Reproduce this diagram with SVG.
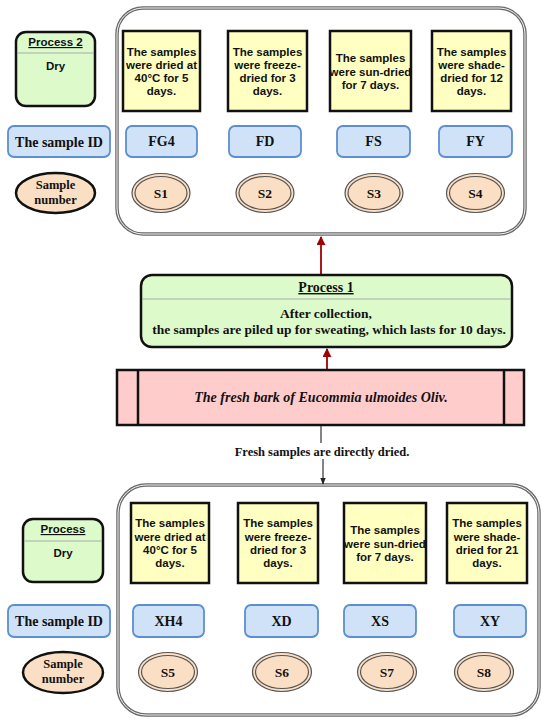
<svg xmlns="http://www.w3.org/2000/svg" width="550" height="725" viewBox="0 0 550 725">
<defs>
<style>
.cont{fill:#fff;stroke:#6a6a6a;stroke-width:3.5}
.conti{fill:none;stroke:#f4f4f4;stroke-width:1}
.proc{fill:#ddfacb;stroke:#111;stroke-width:2.5}
.sep{stroke:#aaa;stroke-width:1.2}
.yel{fill:#ffffc2;stroke:#111;stroke-width:2.5}
.blue{fill:#cfe2f8;stroke:#5b8fd0;stroke-width:1.8}
.peach{fill:#fbdfc4;stroke:#111;stroke-width:2.5}
.dbl{fill:#fbdfc4;stroke:#555;stroke-width:1.2}
.dbl2{fill:none;stroke:#555;stroke-width:1.2}
.pink{fill:#ffcccc;stroke:#111;stroke-width:2.5}
.sans{font-family:"Liberation Sans",Arial,sans-serif;font-weight:bold;font-size:11.5px;fill:#111;text-anchor:middle}
.serif{font-family:"Liberation Serif","Times New Roman",serif;font-weight:bold;fill:#111;text-anchor:middle}
.red{stroke:#a00000;stroke-width:1.8;fill:none}
.blk{stroke:#333;stroke-width:1.2;fill:none}
</style>
<marker id="ar" viewBox="0 0 10 10" refX="9" refY="5" markerWidth="5" markerHeight="5" orient="auto"><path d="M0,0 L10,5 L0,10 z" fill="#a00000"/></marker>
<marker id="ak" viewBox="0 0 10 10" refX="9" refY="5" markerWidth="6" markerHeight="6" orient="auto"><path d="M0,1 L10,5 L0,9 z" fill="#222"/></marker>
</defs>

<g id="container-top">
<rect class="cont" x="117" y="8" width="408" height="226" rx="26"/>
<rect class="conti" x="117" y="8" width="408" height="226" rx="26"/>
</g>
<g id="container-bottom">
<rect class="cont" x="118" y="485" width="421" height="230" rx="28"/>
<rect class="conti" x="118" y="485" width="421" height="230" rx="28"/>
</g>

<g id="connectors">
<line class="red" x1="321" y1="274" x2="321" y2="237" marker-end="url(#ar)"/>
<line class="red" x1="327" y1="370" x2="327" y2="349" marker-end="url(#ar)"/>
<line class="blk" x1="321" y1="425" x2="321" y2="443"/>
<line class="blk" x1="323" y1="459" x2="323" y2="484" marker-end="url(#ak)"/>
<text class="serif" x="322" y="456" font-size="12.5">Fresh samples are directly dried.</text>
</g>

<g id="process2">
<rect class="proc" x="16" y="32" width="79" height="74" rx="10"/>
<line class="sep" x1="17" y1="53" x2="94" y2="53"/>
<text class="sans" x="55.5" y="46" text-decoration="underline">Process 2</text>
<text class="sans" x="55.5" y="70">Dry</text>
</g>

<g id="top-y1"><rect class="yel" x="123" y="31" width="77" height="80"/>
<text class="sans" x="161.5" y="56">The samples</text><text class="sans" x="161.5" y="69">were dried at</text><text class="sans" x="161.5" y="82">40°C for 5</text><text class="sans" x="161.5" y="95">days.</text></g>
<g id="top-y2"><rect class="yel" x="228" y="31" width="79" height="80"/>
<text class="sans" x="267.5" y="56">The samples</text><text class="sans" x="267.5" y="69">were freeze-</text><text class="sans" x="267.5" y="82">dried for 3</text><text class="sans" x="267.5" y="95">days.</text></g>
<g id="top-y3"><rect class="yel" x="330" y="31" width="81" height="80"/>
<text class="sans" x="370.5" y="62">The samples</text><text class="sans" x="370.5" y="76">were sun-dried</text><text class="sans" x="370.5" y="89">for 7 days.</text></g>
<g id="top-y4"><rect class="yel" x="432" y="31" width="79" height="80"/>
<text class="sans" x="471.5" y="56">The samples</text><text class="sans" x="471.5" y="69">were shade-</text><text class="sans" x="471.5" y="82">dried for 12</text><text class="sans" x="471.5" y="95">days.</text></g>

<g id="top-idlabel"><rect class="blue" x="8" y="126" width="102" height="31" rx="6"/><text class="serif" x="59" y="147" font-size="14">The sample ID</text></g>
<g id="top-id1"><rect class="blue" x="126" y="126" width="71" height="31" rx="6"/><text class="serif" x="161.5" y="146" font-size="14">FG4</text></g>
<g id="top-id2"><rect class="blue" x="229" y="126" width="72" height="31" rx="6"/><text class="serif" x="265" y="146" font-size="14">FD</text></g>
<g id="top-id3"><rect class="blue" x="337" y="126" width="73" height="31" rx="6"/><text class="serif" x="373.5" y="146" font-size="14">FS</text></g>
<g id="top-id4"><rect class="blue" x="439" y="126" width="73" height="31" rx="6"/><text class="serif" x="475.5" y="146" font-size="14">FY</text></g>

<g id="top-numlabel"><ellipse class="peach" cx="55.5" cy="193" rx="39.5" ry="20"/><text class="serif" x="55.5" y="189" font-size="12.5">Sample</text><text class="serif" x="55.5" y="204" font-size="12.5">number</text></g>
<g id="top-s1"><ellipse class="dbl" cx="161" cy="193" rx="29" ry="19.5"/><ellipse class="dbl2" cx="161" cy="193" rx="26" ry="16.5"/><text class="serif" x="161" y="198" font-size="13.5">S1</text></g>
<g id="top-s2"><ellipse class="dbl" cx="265" cy="193" rx="29" ry="19.5"/><ellipse class="dbl2" cx="265" cy="193" rx="26" ry="16.5"/><text class="serif" x="265" y="198" font-size="13.5">S2</text></g>
<g id="top-s3"><ellipse class="dbl" cx="374" cy="193" rx="29" ry="19.5"/><ellipse class="dbl2" cx="374" cy="193" rx="26" ry="16.5"/><text class="serif" x="374" y="198" font-size="13.5">S3</text></g>
<g id="top-s4"><ellipse class="dbl" cx="475.5" cy="193" rx="29" ry="19.5"/><ellipse class="dbl2" cx="475.5" cy="193" rx="26" ry="16.5"/><text class="serif" x="475.5" y="198" font-size="13.5">S4</text></g>

<g id="process1">
<rect class="proc" x="141" y="275" width="371" height="72" rx="11"/>
<line class="sep" x1="142" y1="299" x2="511" y2="299"/>
<text class="serif" x="326" y="292" font-size="14" text-decoration="underline">Process 1</text>
<text class="serif" x="326" y="318" font-size="13.5">After collection,</text>
<text class="serif" x="329" y="334" font-size="13.5">the samples are piled up for sweating, which lasts for 10 days.</text>
</g>

<g id="fresh-bark">
<rect class="pink" x="117" y="370" width="407" height="55"/>
<line x1="138" y1="370" x2="138" y2="425" style="stroke:#111;stroke-width:2.5"/>
<line x1="504" y1="370" x2="504" y2="425" style="stroke:#111;stroke-width:2.5"/>
<text class="serif" x="321" y="402" font-size="14" font-style="italic">The fresh bark of Eucommia ulmoides Oliv.</text>
</g>

<g id="process-b">
<rect class="proc" x="23" y="519" width="80" height="63" rx="10"/>
<line class="sep" x1="24" y1="541" x2="102" y2="541"/>
<text class="sans" x="63" y="533" text-decoration="underline">Process </text>
<text class="sans" x="63" y="557">Dry</text>
</g>

<g id="bot-y1"><rect class="yel" x="131" y="503" width="78" height="80"/>
<text class="sans" x="170" y="527">The samples</text><text class="sans" x="170" y="541">were dried at</text><text class="sans" x="170" y="554">40°C for 5</text><text class="sans" x="170" y="567">days.</text></g>
<g id="bot-y2"><rect class="yel" x="238" y="503" width="80" height="80"/>
<text class="sans" x="278" y="527">The samples</text><text class="sans" x="278" y="541">were freeze-</text><text class="sans" x="278" y="554">dried for 3</text><text class="sans" x="278" y="567">days.</text></g>
<g id="bot-y3"><rect class="yel" x="344" y="503" width="82" height="80"/>
<text class="sans" x="385" y="534">The samples</text><text class="sans" x="385" y="548">were sun-dried</text><text class="sans" x="385" y="561">for 7 days.</text></g>
<g id="bot-y4"><rect class="yel" x="447" y="503" width="80" height="80"/>
<text class="sans" x="487" y="527">The samples</text><text class="sans" x="487" y="541">were shade-</text><text class="sans" x="487" y="554">dried for 21</text><text class="sans" x="487" y="567">days.</text></g>

<g id="bot-idlabel"><rect class="blue" x="8" y="605" width="102" height="32" rx="6"/><text class="serif" x="59" y="626" font-size="14">The sample ID</text></g>
<g id="bot-id1"><rect class="blue" x="133" y="605" width="71" height="32" rx="6"/><text class="serif" x="168.5" y="626" font-size="14">XH4</text></g>
<g id="bot-id2"><rect class="blue" x="245" y="605" width="73" height="32" rx="6"/><text class="serif" x="281.5" y="626" font-size="14">XD</text></g>
<g id="bot-id3"><rect class="blue" x="344" y="605" width="72" height="32" rx="6"/><text class="serif" x="380" y="626" font-size="14">XS</text></g>
<g id="bot-id4"><rect class="blue" x="454" y="605" width="72" height="32" rx="6"/><text class="serif" x="490" y="626" font-size="14">XY</text></g>

<g id="bot-numlabel"><ellipse class="peach" cx="63" cy="672.5" rx="40" ry="20.5"/><text class="serif" x="63" y="668" font-size="12.5">Sample</text><text class="serif" x="63" y="683" font-size="12.5">number</text></g>
<g id="bot-s5"><ellipse class="dbl" cx="168" cy="672" rx="29.5" ry="19.5"/><ellipse class="dbl2" cx="168" cy="672" rx="26.5" ry="16.5"/><text class="serif" x="168" y="677" font-size="13.5">S5</text></g>
<g id="bot-s6"><ellipse class="dbl" cx="282" cy="672" rx="29.5" ry="19.5"/><ellipse class="dbl2" cx="282" cy="672" rx="26.5" ry="16.5"/><text class="serif" x="282" y="677" font-size="13.5">S6</text></g>
<g id="bot-s7"><ellipse class="dbl" cx="387" cy="672" rx="29.5" ry="19.5"/><ellipse class="dbl2" cx="387" cy="672" rx="26.5" ry="16.5"/><text class="serif" x="387" y="677" font-size="13.5">S7</text></g>
<g id="bot-s8"><ellipse class="dbl" cx="484" cy="672" rx="29.5" ry="19.5"/><ellipse class="dbl2" cx="484" cy="672" rx="26.5" ry="16.5"/><text class="serif" x="484" y="677" font-size="13.5">S8</text></g>
</svg>
